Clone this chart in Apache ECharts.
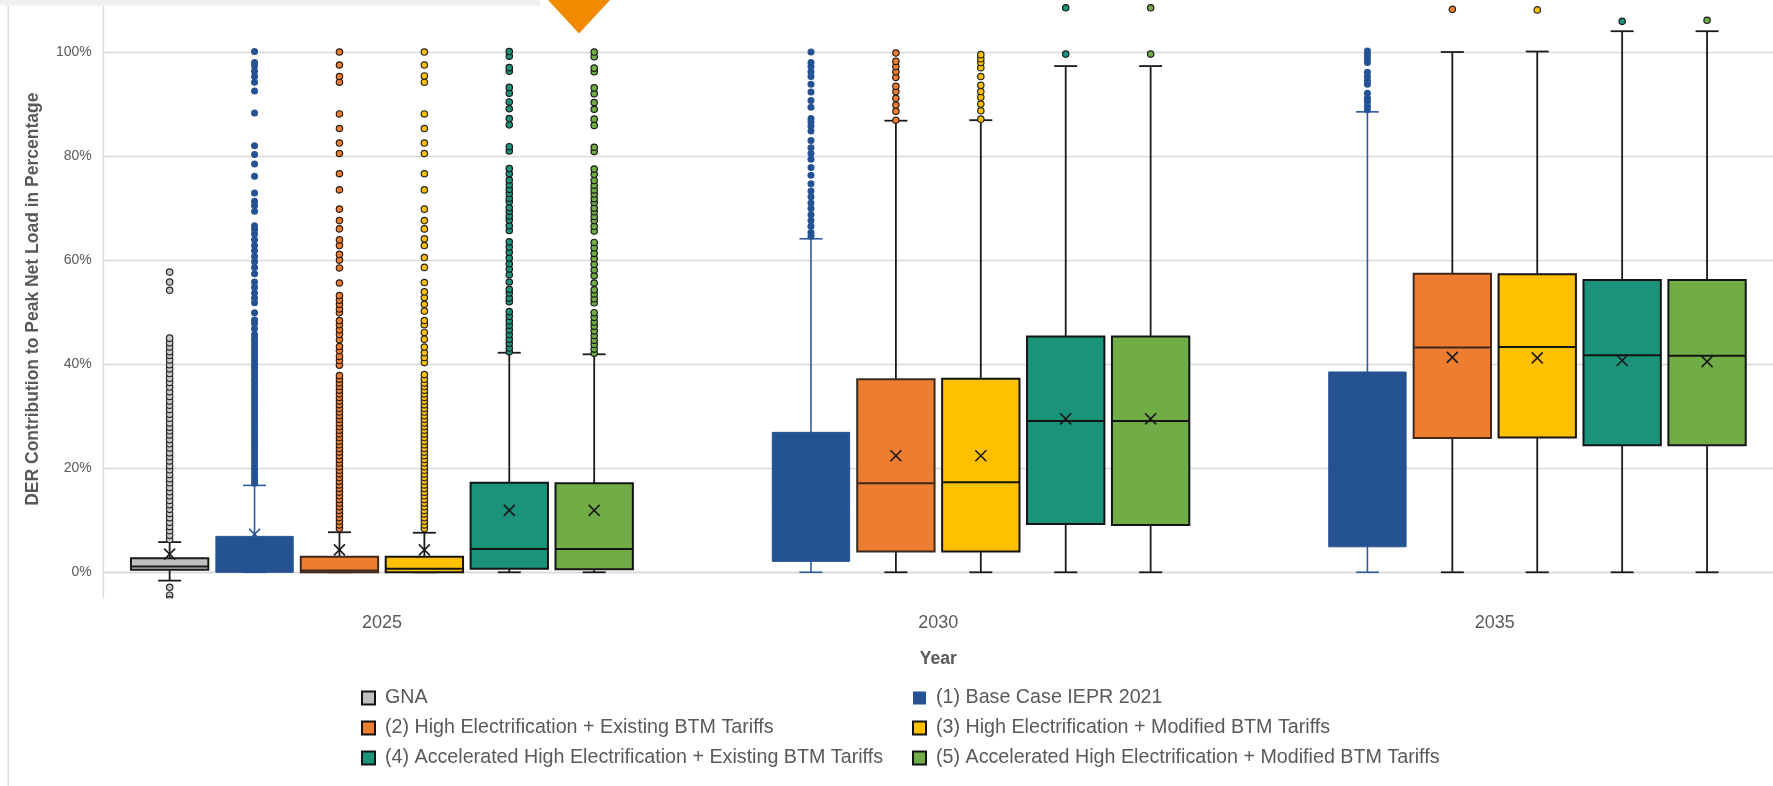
<!DOCTYPE html>
<html>
<head>
<meta charset="utf-8">
<script src="https://cdn.jsdelivr.net/npm/echarts@6/dist/echarts.min.js"></script>
<style>
  html, body { margin: 0; padding: 0; background: #ffffff; }
  #chart { width: 1773px; height: 786px; }
</style>
</head>
<body>
<div id="chart"></div>
<script>
// ---- data -------------------------------------------------------------
const years = ['2025', '2030', '2035'];
const yTicks = [0, 20, 40, 60, 80, 100];

const seriesNames = [
  'GNA',
  '(1) Base Case IEPR 2021',
  '(2) High Electrification + Existing BTM Tariffs',
  '(3) High Electrification + Modified BTM Tariffs',
  '(4) Accelerated High Electrification + Existing BTM Tariffs',
  '(5) Accelerated High Electrification + Modified BTM Tariffs'
];

// Box statistics per year, in %: [min whisker, Q1, median, Q3, max whisker, mean]
const statsGNA = [[-1.6, 0.5, 1.1, 2.7, 5.8, 3.5], null, null];
const statsBase = [[0, 0, 0.4, 6.9, 16.7, 7.3], [0, 2.1, 12.5, 26.9, 64.1, 16.8], [0, 4.9, 20.5, 38.5, 88.5, 23.0]];
const statsHighExisting = [[0, 0, 0.35, 3.0, 7.7, 4.3], [0, 4.0, 17.1, 37.1, 86.8, 22.4], [0, 25.8, 43.2, 57.4, 100.0, 41.3]];
const statsHighModified = [[0, 0, 0.7, 3.0, 7.6, 4.3], [0, 4.0, 17.3, 37.2, 86.9, 22.4], [0, 25.9, 43.3, 57.3, 100.1, 41.2]];
const statsAccelExisting = [[0, 0.7, 4.5, 17.2, 42.2, 11.9], [0, 9.3, 29.1, 45.3, 97.3, 29.5], [0, 24.4, 41.7, 56.2, 104.0, 40.7]];
const statsAccelModified = [[0, 0.6, 4.5, 17.1, 41.9, 11.9], [0, 9.1, 29.1, 45.3, 97.3, 29.5], [0, 24.4, 41.6, 56.2, 104.0, 40.5]];

// Outlying runs per year, in %
const outGNA = [
  [-2.9, -4.4, -5.3, 6.3, 7.1, 8.0, 8.8, 9.6, 10.5, 11.3, 12.1, 13.0, 13.8, 14.7, 15.5, 16.3, 17.2, 18.0,
   18.8, 19.7, 20.5, 21.4, 22.2, 23.0, 23.9, 24.7, 25.5, 26.4, 27.2, 27.9, 28.7, 29.6, 30.4, 31.3, 32.1,
   32.9, 33.8, 34.7, 35.6, 36.5, 37.3, 38.2, 39.1, 39.9, 40.8, 41.7, 42.4, 43.3, 44.1, 45.0, 54.2, 55.8, 57.7],
  [], []
];
const outBase = [
  [17.1, 17.8, 18.4, 19.1, 19.8, 20.5, 21.2, 21.9, 22.6, 23.3, 24.0, 24.7, 25.4, 26.1, 26.8, 27.5, 28.2,
   28.9, 29.6, 30.3, 31.0, 31.7, 32.4, 33.1, 33.8, 34.5, 35.2, 35.9, 36.6, 37.3, 38.0, 38.7, 39.4, 40.1,
   40.8, 41.5, 42.2, 42.9, 43.6, 44.3, 45.0, 45.7, 46.8, 47.8, 48.5, 49.9, 51.8, 52.7, 53.7, 54.8, 55.8,
   57.4, 58.6, 59.7, 60.7, 61.8, 62.8, 63.9, 65.0, 65.9, 66.6, 69.4, 70.5, 71.3, 72.9, 76.1, 78.5, 80.3,
   82.0, 88.3, 92.5, 94.2, 95.3, 96.3, 97.3, 98.0, 100.1],
  [64.6, 65.3, 66.5, 67.6, 68.7, 69.9, 71.0, 72.2, 73.3, 74.7, 76.3, 77.8, 79.4, 80.5, 81.6, 83.0, 84.8,
   85.8, 86.6, 87.2, 89.4, 90.7, 92.3, 93.8, 95.3, 96.2, 97.2, 98.0, 100.0],
  [88.9, 89.6, 90.4, 91.1, 92.1, 93.8, 94.5, 95.3, 96.1, 98.0, 98.7, 99.5, 100.2]
];
const outHighExisting = [
  [8.4, 9.1, 9.8, 10.5, 11.2, 11.9, 12.6, 13.3, 14.0, 14.7, 15.4, 16.1, 16.8, 17.5, 18.2, 18.9, 19.6,
   20.3, 21.0, 21.7, 22.4, 23.1, 23.8, 24.5, 25.2, 25.9, 26.6, 27.3, 28.0, 28.7, 29.4, 30.1, 30.8, 31.5,
   32.2, 32.9, 33.6, 34.3, 35.0, 35.7, 36.4, 37.1, 37.8, 39.8, 40.7, 41.5, 42.6, 43.4, 44.7, 45.7, 46.6,
   47.6, 48.4, 49.9, 50.6, 51.5, 52.3, 53.2, 55.6, 58.5, 60.0, 61.1, 62.8, 63.9, 66.0, 67.6, 69.8, 73.5,
   76.6, 80.5, 82.5, 85.3, 88.1, 94.2, 95.3, 97.5, 100.0],
  [86.9, 88.6, 89.8, 91.1, 92.4, 93.4, 95.1, 96.2, 97.2, 98.2, 99.8],
  [108.2]
];
const outHighModified = [
  [8.4, 9.1, 9.8, 10.5, 11.2, 11.9, 12.6, 13.3, 14.0, 14.7, 15.4, 16.1, 16.8, 17.5, 18.2, 18.9, 19.6,
   20.3, 21.0, 21.7, 22.4, 23.1, 23.8, 24.5, 25.2, 25.9, 26.6, 27.3, 28.0, 28.7, 29.4, 30.1, 30.8, 31.5,
   32.2, 32.9, 33.6, 34.3, 35.0, 35.7, 36.4, 37.1, 38.0, 40.3, 41.3, 42.2, 43.3, 44.8, 46.1, 47.6, 48.4,
   50.2, 51.5, 52.8, 53.9, 55.7, 58.6, 60.5, 62.8, 64.1, 66.0, 67.6, 69.8, 73.5, 76.6, 80.5, 82.5, 85.3,
   88.1, 94.2, 95.4, 97.5, 100.0],
  [87.1, 88.7, 90.0, 91.3, 92.4, 93.6, 95.3, 97.0, 98.0, 98.7, 99.5],
  [108.1]
];
const outAccelExisting = [
  [42.4, 43.1, 44.0, 44.8, 45.7, 46.6, 47.5, 48.3, 49.2, 50.1, 52.0, 52.7, 53.7, 54.4, 55.8, 57.2, 58.3,
   59.3, 60.4, 61.5, 62.5, 63.5, 65.7, 66.6, 67.7, 68.5, 69.4, 70.1, 71.2, 71.9, 72.8, 73.6, 74.5, 75.4,
   76.6, 77.6, 81.0, 81.8, 86.0, 87.2, 89.1, 90.4, 92.1, 93.2, 96.3, 97.0, 99.2, 100.1],
  [99.6, 108.5],
  [105.9]
];
const outAccelModified = [
  [42.1, 42.9, 43.8, 44.6, 45.5, 46.4, 47.3, 48.1, 49.0, 49.9, 51.8, 52.6, 53.5, 54.3, 55.6, 57.0, 58.1,
   59.2, 60.3, 61.3, 62.4, 63.4, 65.6, 66.5, 67.6, 68.4, 69.3, 70.0, 71.1, 71.8, 72.7, 73.5, 74.4, 75.3,
   76.5, 77.5, 80.9, 81.7, 85.9, 87.1, 89.0, 90.3, 92.0, 93.1, 96.2, 96.9, 99.1, 100.0],
  [99.6, 108.5],
  [106.1]
];

const statsList = [statsGNA, statsBase, statsHighExisting, statsHighModified, statsAccelExisting, statsAccelModified];
const outList = [outGNA, outBase, outHighExisting, outHighModified, outAccelExisting, outAccelModified];

// ---- styling ----------------------------------------------------------
const looks = [
  { fill: '#bfbfbf', edge: '#1a1a1a', whisker: '#1a1a1a', dotFill: '#c8c8c8', dotEdge: '#262626', dotR: 3.2 },
  { fill: '#245293', edge: '#245293', whisker: '#2f5b9e', dotFill: '#245293', dotEdge: null, dotR: 3.5 },
  { fill: '#ed7d31', edge: '#3d2a1c', whisker: '#1a1a1a', dotFill: '#ed7d31', dotEdge: '#2a1d14', dotR: 3.2 },
  { fill: '#ffc000', edge: '#141414', whisker: '#1a1a1a', dotFill: '#ffc000', dotEdge: '#262626', dotR: 3.2 },
  { fill: '#1b927a', edge: '#141414', whisker: '#1a1a1a', dotFill: '#1b927a', dotEdge: '#1a1a1a', dotR: 3.2 },
  { fill: '#70ad47', edge: '#141414', whisker: '#1a1a1a', dotFill: '#70ad47', dotEdge: '#1a1a1a', dotR: 3.2 }
];
const meanColor = ['#1a1a1a', '#245293', '#1a1a1a', '#1a1a1a', '#1a1a1a', '#1a1a1a'];

const FONT = 'Liberation Sans, Arial, sans-serif';
const GREY_TEXT = '#595959';

// Each scenario owns a fixed slot inside a year band
const SLOT = 0.1526;   // slot pitch as a share of the band
const BOX_W = 0.139;   // box width as a share of the band
const CAP_W = 23;      // whisker cap length, px

function slotCenter(api, cat, s) {
  const band = api.size([1, 0])[0];
  return api.coord([cat, 0])[0] + (s - 2.5) * SLOT * band;
}

function boxRenderer(s) {
  const lk = looks[s];
  return function (params, api) {
    const cat = api.value(0);
    const band = api.size([1, 0])[0];
    const cx = slotCenter(api, cat, s);
    const w = BOX_W * band;
    const py = k => api.coord([cat, api.value(k)])[1];
    const yMin = py(1), yQ1 = py(2), yMed = py(3), yQ3 = py(4), yMax = py(5), yMean = py(6);
    const wl = { stroke: lk.whisker, lineWidth: s === 1 ? 1.6 : 1.8 };
    const m = 5.5;
    const mc = meanColor[s];
    return {
      type: 'group',
      children: [
        { type: 'line', shape: { x1: cx, y1: yQ3, x2: cx, y2: yMax }, style: wl },
        { type: 'line', shape: { x1: cx - CAP_W / 2, y1: yMax, x2: cx + CAP_W / 2, y2: yMax }, style: wl },
        { type: 'line', shape: { x1: cx, y1: yQ1, x2: cx, y2: yMin }, style: wl },
        { type: 'line', shape: { x1: cx - CAP_W / 2, y1: yMin, x2: cx + CAP_W / 2, y2: yMin }, style: wl },
        { type: 'rect', shape: { x: cx - w / 2, y: yQ3, width: w, height: Math.max(yQ1 - yQ3, 1) },
          style: { fill: lk.fill, stroke: lk.edge, lineWidth: s === 1 ? 1 : 2 } },
        { type: 'line', shape: { x1: cx - w / 2, y1: yMed, x2: cx + w / 2, y2: yMed },
          style: { stroke: lk.edge, lineWidth: 2 } },
        { type: 'line', shape: { x1: cx - m, y1: yMean - m, x2: cx + m, y2: yMean + m },
          style: { stroke: mc, lineWidth: 1.6 } },
        { type: 'line', shape: { x1: cx - m, y1: yMean + m, x2: cx + m, y2: yMean - m },
          style: { stroke: mc, lineWidth: 1.6 } }
      ]
    };
  };
}

function dotRenderer(s) {
  const lk = looks[s];
  return function (params, api) {
    const cat = api.value(0);
    const cx = slotCenter(api, cat, s);
    const cy = api.coord([cat, api.value(1)])[1];
    return {
      type: 'circle',
      shape: { cx: cx, cy: cy, r: lk.dotR },
      style: lk.dotEdge
        ? { fill: lk.dotFill, stroke: lk.dotEdge, lineWidth: 1.2 }
        : { fill: lk.dotFill }
    };
  };
}

// ---- series -----------------------------------------------------------
const series = [];
seriesNames.forEach(function (name, s) {
  const boxData = [];
  statsList[s].forEach(function (st, i) { if (st) boxData.push([i].concat(st)); });
  const dotData = [];
  outList[s].forEach(function (vals, i) { vals.forEach(function (v) { dotData.push([i, v]); }); });

  series.push({
    type: 'custom', name: name, z: 3,
    itemStyle: { color: looks[s].fill },
    renderItem: boxRenderer(s),
    encode: { x: 0, y: [1, 2, 3, 4, 5, 6] },
    data: boxData,
    silent: true
  });
  series.push({
    type: 'custom', name: name, z: 4, clip: true,
    itemStyle: { color: looks[s].fill },
    renderItem: dotRenderer(s),
    encode: { x: 0, y: 1 },
    data: dotData,
    silent: true
  });
});

function legendItem(s) {
  return {
    name: seriesNames[s],
    icon: 'rect',
    itemStyle: { color: looks[s].fill, borderColor: s === 1 ? looks[s].fill : '#141414', borderWidth: s === 1 ? 0 : 2 }
  };
}
const legendCommon = {
  orient: 'vertical', top: 688, padding: 0, itemWidth: 13, itemHeight: 13, itemGap: 10,
  selectedMode: false,
  textStyle: { color: GREY_TEXT, fontSize: 19.7, fontFamily: FONT, lineHeight: 20, padding: [0, 0, 0, 5] }
};

const chart = echarts.init(document.getElementById('chart'), null, { renderer: 'canvas' });
chart.setOption({
  backgroundColor: '#ffffff',
  animation: false,
  textStyle: { fontFamily: FONT },
  grid: { left: 103.7, right: -15, top: -1.5, bottom: 187.7, containLabel: false },
  xAxis: {
    type: 'category', data: years, boundaryGap: true,
    axisLine: { show: true, lineStyle: { color: '#d9d9d9', width: 1.3 } },
    axisTick: { show: false },
    axisLabel: { color: GREY_TEXT, fontSize: 18, margin: 15.5, fontFamily: FONT },
    splitLine: { show: false },
    name: 'Year', nameLocation: 'middle', nameGap: 52,
    nameTextStyle: { color: GREY_TEXT, fontSize: 17.5, fontWeight: 'bold', fontFamily: FONT }
  },
  yAxis: {
    type: 'value', min: -5, max: 110,
    axisLine: { show: true, lineStyle: { color: '#d9d9d9', width: 1.3 } },
    axisTick: { show: false, customValues: yTicks },
    axisLabel: { customValues: yTicks, formatter: v => v + '%', color: GREY_TEXT, fontSize: 14, margin: 12, fontFamily: FONT },
    splitLine: { show: true, lineStyle: { color: '#d9d9d9', width: 1.3 } },
    name: 'DER Contribution to Peak Net Load in Percentage',
    nameLocation: 'middle', nameRotate: 90, nameGap: 62,
    nameTextStyle: { color: GREY_TEXT, fontSize: 17.5, fontWeight: 'bold', fontFamily: FONT }
  },
  legend: [
    Object.assign({}, legendCommon, { left: 361, data: [0, 2, 4].map(legendItem) }),
    Object.assign({}, legendCommon, { left: 912, data: [1, 3, 5].map(legendItem) })
  ],
  graphic: [
    { type: 'rect', left: 0, top: 0, shape: { width: 540, height: 5.5 }, style: { fill: '#f0f0f0' }, z: 100 },
    { type: 'line', shape: { x1: 8.3, y1: 5.5, x2: 8.3, y2: 786 }, style: { stroke: '#d9d9d9', lineWidth: 1.5 }, z: 100 },
    { type: 'polygon', shape: { points: [[547, -1], [611, -1], [579, 33.5]] }, style: { fill: '#f08a00' }, z: 100 }
  ],
  series: series
});
</script>
</body>
</html>
